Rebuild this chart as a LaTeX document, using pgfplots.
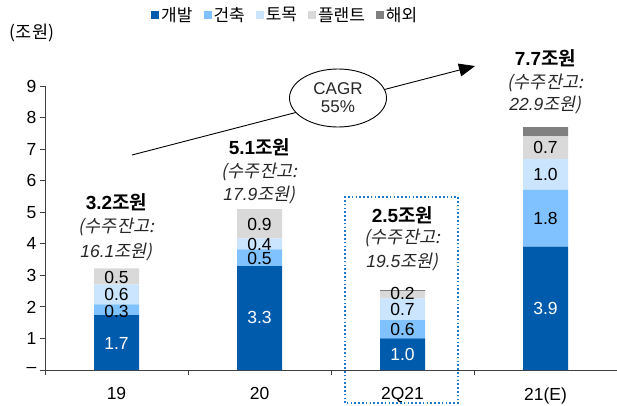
\documentclass[border=0pt]{standalone}
\usepackage{pgfplots}
\pgfplotsset{compat=1.18}
\usepackage{pgfplotstable}
\usepackage{fontspec}
\setmainfont{Liberation Sans}
\newfontfamily\kr{Noto Sans CJK KR}[BoldFont={Noto Sans CJK KR Bold}]
\newfontfamily\krit{Noto Sans CJK KR}[FakeSlant=0.2]
\usetikzlibrary{arrows.meta}

\definecolor{dev}{HTML}{005BAC}
\definecolor{arch}{HTML}{7FC2FF}
\definecolor{civil}{HTML}{CCE5FF}
\definecolor{plant}{HTML}{D9D9D9}
\definecolor{abroad}{HTML}{808080}
\definecolor{boxblue}{HTML}{1F78C8}

% 신규수주 (조원): 개발, 건축, 토목, 플랜트, 해외
\pgfplotstableread{
x dev arch civil plant abroad
0 1.74 0.34 0.63 0.51 0.0
1 3.29 0.53 0.35 0.93 0.0
2 1.00 0.58 0.69 0.23 0.03
3 3.91 1.81 0.97 0.71 0.30
}\orders

\pgfplotsset{frame/.style={
  at={(45pt,35pt)}, anchor=south west,
  scale only axis, width=572pt, height=284pt,
  xmin=-0.5, xmax=3.5, ymin=0, ymax=9, clip=false}}

\begin{document}
\begin{tikzpicture}[font=\fontsize{17.5}{20}\selectfont]
\useasboundingbox (0,0) rectangle (617pt,405pt);
\begin{axis}[
  frame,
  ybar stacked, bar width=45pt,
  axis x line*=bottom, axis y line*=left,
  axis line style={black!75, line width=0.9pt},
  xtick={0,1,2,3}, xticklabels={19,20,2Q21,21(E)},
  minor xtick={-0.5,0.5,1.5,2.5,3.5},
  major x tick style={draw=none},
  ytick={0,...,9}, yticklabels={--,1,2,3,4,5,6,7,8,9},
  tick align=outside, major tick length=5pt, minor tick length=5pt,
  tick style={black!75, line width=0.8pt},
  xticklabel style={yshift=-9pt},
  legend style={at={(0.42,1.25)}, anchor=center, draw=none, fill=none,
    legend columns=5, font=\fontsize{17}{20}\selectfont,
    /tikz/every even column/.append style={column sep=9pt}},
  legend image code/.code={\fill[#1] (0pt,-4pt) rectangle (8pt,4pt);},
]
\addplot[fill=dev, draw=none] table[x=x,y=dev]{\orders};
\addlegendentry{\kr 개발}
\addplot[fill=arch, draw=none] table[x=x,y=arch]{\orders};
\addlegendentry{\kr 건축}
\addplot[fill=civil, draw=none] table[x=x,y=civil]{\orders};
\addlegendentry{\kr 토목}
\addplot[fill=plant, draw=none] table[x=x,y=plant]{\orders};
\addlegendentry{\kr 플랜트}
\addplot[fill=abroad, draw=none] table[x=x,y=abroad]{\orders};
\addlegendentry{\kr 해외}
\end{axis}

% labels on top of the bars (same frame, drawn after)
\begin{axis}[frame, hide axis]
\node[white] at (axis cs:0,0.85) {1.7};
\node at (axis cs:0,1.87) {0.3};
\node at (axis cs:0,2.4) {0.6};
\node at (axis cs:0,2.92) {0.5};
\node[white] at (axis cs:1,1.65) {3.3};
\node at (axis cs:1,3.55) {0.5};
\node at (axis cs:1,3.97) {0.4};
\node at (axis cs:1,4.6) {0.9};
\node[white] at (axis cs:2,0.5) {1.0};
\node at (axis cs:2,1.3) {0.6};
\node at (axis cs:2,1.92) {0.7};
\node at (axis cs:2,2.42) {0.2};
\node[white] at (axis cs:3,1.95) {3.9};
\node at (axis cs:3,4.8) {1.8};
\node at (axis cs:3,6.2) {1.0};
\node at (axis cs:3,7.05) {0.7};

\node[font=\fontsize{19}{20}\selectfont\bfseries] at (axis cs:0,5.32) {3.2{\kr 조원}};
\node[black!85] at (axis cs:0,4.53) {\krit (수주잔고:};
\node[black!85] at (axis cs:0,3.73) {{\itshape 16.1}{\krit 조원)}};
\node[font=\fontsize{19}{20}\selectfont\bfseries] at (axis cs:1,7.06) {5.1{\kr 조원}};
\node[black!85] at (axis cs:1,6.27) {\krit (수주잔고:};
\node[black!85] at (axis cs:1,5.54) {{\itshape 17.9}{\krit 조원)}};
\node[font=\fontsize{19}{20}\selectfont\bfseries] at (axis cs:2,4.9) {2.5{\kr 조원}};
\node[black!85] at (axis cs:2,4.18) {\krit (수주잔고:};
\node[black!85] at (axis cs:2,3.42) {{\itshape 19.5}{\krit 조원)}};
\node[font=\fontsize{19}{20}\selectfont\bfseries] at (axis cs:3,9.87) {7.7{\kr 조원}};
\node[black!85] at (axis cs:3,9.11) {\krit (수주잔고:};
\node[black!85] at (axis cs:3,8.39) {{\itshape 22.9}{\krit 조원)}};
\end{axis}

\node at (32pt,372pt) {\kr (조원)};
\draw[-{Triangle[length=16pt,width=13pt]}, line width=0.9pt] (132pt,250pt) -- (475pt,339pt);
\draw[fill=white, line width=0.9pt] (338pt,307pt) ellipse (48.5pt and 29pt);
\node[align=center, font=\fontsize{17}{18}\selectfont, black!85] at (338pt,307pt) {CAGR\\55\%};
\draw[boxblue, line width=1.6pt, dash pattern=on 1.6pt off 2.2pt] (345pt,2pt) rectangle (458pt,208pt);
\end{tikzpicture}
\end{document}
